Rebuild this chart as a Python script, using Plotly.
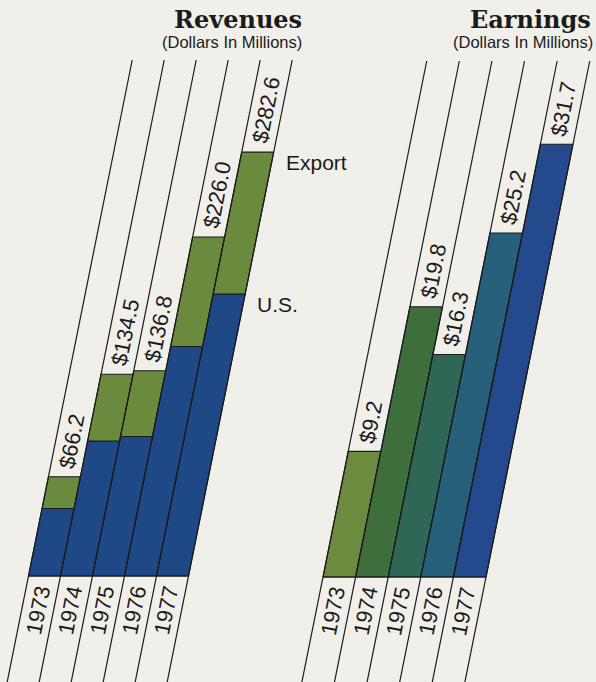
import math
import plotly.graph_objects as go

# ---------------- data ----------------
years = ["1973", "1974", "1975", "1976", "1977"]
rev_total = [66.2, 134.5, 136.8, 226.0, 282.6]
rev_us = [45.0, 90.0, 93.0, 153.0, 188.0]
rev_export = [round(t - u, 1) for t, u in zip(rev_total, rev_us)]
earn_total = [9.2, 19.8, 16.3, 25.2, 31.7]

# ---------------- style ----------------
W, H = 596, 682
BG = "#F0EFE9"
INK = "#1b1b1b"
GREEN = "#6A8A3E"
BLUE = "#1F4886"
EARN_COLORS = ["#6B8B3F", "#3E6E3B", "#2E6756", "#27607A", "#24498C"]
SANS = "Liberation Sans, Arial, Helvetica, sans-serif"
SERIF = "DejaVu Serif, serif"
SLOPE = 0.201          # horizontal lean of the columns (px x per px y)
ANGLE = -math.degrees(math.atan(1 / SLOPE))
FS = 22

panels = {
    "rev": dict(base=576, k=1.5, cw=32.0, x0=28.5, top=60, xa="x", ya="y"),
    "earn": dict(base=577, k=13.65, cw=32.6, x0=323.0, top=61, xa="x2", ya="y2"),
}
for p in panels.values():
    p["s"] = SLOPE * p["k"] / p["cw"]                     # columns per dollar
    p["yr"] = [-(H - p["base"]) / p["k"], p["base"] / p["k"]]
    p["xr"] = [-p["x0"] / p["cw"], (W - p["x0"]) / p["cw"]]

fig = go.Figure()


def xs(p, col, y):
    return col + p["s"] * y


def para(p, col, y0, y1, color):
    xv = [xs(p, col, y0), xs(p, col + 1, y0), xs(p, col + 1, y1), xs(p, col, y1), xs(p, col, y0)]
    yv = [y0, y0, y1, y1, y0]
    fig.add_trace(go.Scatter(x=xv, y=yv, fill="toself", fillcolor=color, mode="lines",
                             line=dict(color=INK, width=1.1), xaxis=p["xa"], yaxis=p["ya"],
                             hoverinfo="skip", showlegend=False))


def text_len(t, fs):
    return sum((0.278 if ch == "." else 0.556) for ch in t) * fs


# bars
pr = panels["rev"]
for i in range(len(years)):
    para(pr, i, 0, rev_us[i], BLUE)
    para(pr, i, rev_us[i], rev_total[i], GREEN)
pe = panels["earn"]
for i in range(len(years)):
    para(pe, i, 0, earn_total[i], EARN_COLORS[i])

# column lines and baseline, labels
for key, totals in (("rev", rev_total), ("earn", earn_total)):
    p = panels[key]
    ybot = p["yr"][0] - 2
    ytop = (p["base"] - p["top"]) / p["k"]
    for c in range(len(years) + 1):
        fig.add_trace(go.Scatter(x=[xs(p, c, ybot), xs(p, c, ytop)], y=[ybot, ytop], mode="lines",
                                 line=dict(color=INK, width=1.2), xaxis=p["xa"], yaxis=p["ya"],
                                 hoverinfo="skip", showlegend=False))
    fig.add_trace(go.Scatter(x=[xs(p, 0, 0), xs(p, len(years), 0)], y=[0, 0], mode="lines",
                             line=dict(color=INK, width=1.2), xaxis=p["xa"], yaxis=p["ya"],
                             hoverinfo="skip", showlegend=False))
    # year labels
    for i, yr in enumerate(years):
        yc = -34 / p["k"]
        fig.add_annotation(x=xs(p, i + 0.5, yc), y=yc, xref=p["xa"], yref=p["ya"], text=yr,
                           textangle=ANGLE, showarrow=False, xanchor="center", yanchor="middle",
                           font=dict(family=SANS, size=FS, color=INK))
    # value labels
    for i, v in enumerate(totals):
        t = "$%.1f" % v
        yc = v + (8 + text_len(t, FS) / 2) / p["k"]
        fig.add_annotation(x=xs(p, i + 0.5, yc), y=yc, xref=p["xa"], yref=p["ya"], text=t,
                           textangle=ANGLE, showarrow=False, xanchor="center", yanchor="middle",
                           font=dict(family=SANS, size=FS, color=INK))

# series labels
last = len(years) - 1
for name, yval in (("Export", rev_total[last]), ("U.S.", rev_us[last])):
    yc = yval - 10 / pr["k"]
    fig.add_annotation(x=xs(pr, last + 1, yc), y=yc, xref="x", yref="y", text=name,
                       showarrow=False, xanchor="left", yanchor="middle", xshift=12,
                       font=dict(family=SANS, size=21, color=INK))

# titles
for title, cx in (("Revenues", 238), ("Earnings", 530)):
    fig.add_annotation(x=cx / W, y=1 - 20 / H, xref="paper", yref="paper",
                       text="<b>%s</b>" % title, showarrow=False, xanchor="center", yanchor="middle",
                       font=dict(family=SERIF, size=24, color=INK))
for cx in (232, 523):
    fig.add_annotation(x=cx / W, y=1 - 42 / H, xref="paper", yref="paper",
                       text="(Dollars In Millions)", showarrow=False, xanchor="center", yanchor="middle",
                       font=dict(family=SANS, size=16.5, color=INK))

ax = dict(visible=False, showgrid=False, zeroline=False, fixedrange=True)
fig.update_layout(
    width=W, height=H, margin=dict(l=0, r=0, t=0, b=0),
    paper_bgcolor=BG, plot_bgcolor=BG, showlegend=False,
    xaxis=dict(ax, domain=[0, 1], range=pr["xr"], anchor="y"),
    yaxis=dict(ax, domain=[0, 1], range=pr["yr"], anchor="x"),
    xaxis2=dict(ax, domain=[0, 1], range=pe["xr"], anchor="y2", overlaying="x"),
    yaxis2=dict(ax, domain=[0, 1], range=pe["yr"], anchor="x2", overlaying="y"),
)

fig.write_html("out.html")
